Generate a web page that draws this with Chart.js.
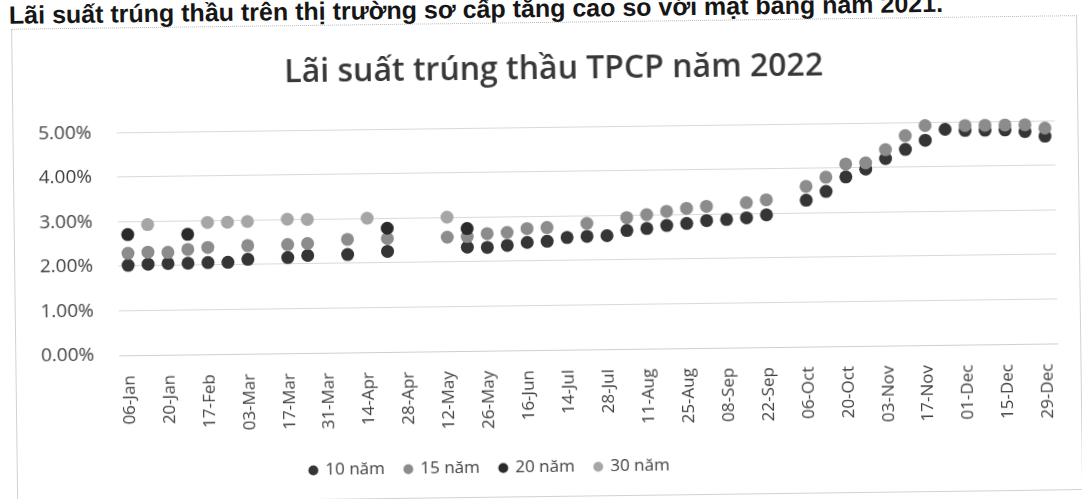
<!DOCTYPE html>
<html>
<head>
<meta charset="utf-8">
<title>Lãi suất trúng thầu TPCP năm 2022</title>
<script src="https://cdn.jsdelivr.net/npm/chart.js@4.4.1/dist/chart.umd.min.js"></script>
<style>
    html, body { margin: 0; padding: 0; background: #fff; width: 1082px; height: 499px; overflow: hidden; }
    /* the reference is a slightly tilted scan */
    #page { position: absolute; left: 0; top: 0; width: 1082px; height: 499px; transform: rotate(-0.73deg); transform-origin: 541px 250px; }
    #headline { position: absolute; left: 12px; top: -4px; font: bold 25px "Liberation Sans", Arial, sans-serif; line-height: 25px; color: #161616; white-space: nowrap; }
    #frame { position: absolute; left: 14px; top: 22px; width: 1066px; height: 475px; box-sizing: border-box; border: 1px solid #d2d2d2; border-top: 1px dotted #b8b8b8; }
    #chartBox { position: relative; width: 1064px; height: 480px; }
</style>
</head>
<body>
<div id="page">
    <div id="headline">Lãi suất trúng thầu trên thị trường sơ cấp tăng cao so với mặt bằng năm 2021.</div>
    <div id="frame">
        <div id="chartBox"><canvas id="rateChart"></canvas></div>
    </div>
</div>
<script>
// auction dates (every other one is labelled on the axis)
const categories = [
    '06-Jan', '13-Jan', '20-Jan', '10-Feb', '17-Feb', '24-Feb', '03-Mar', '10-Mar',
    '17-Mar', '24-Mar', '31-Mar', '07-Apr', '14-Apr', '21-Apr', '28-Apr', '05-May',
    '12-May', '19-May', '26-May', '09-Jun', '16-Jun', '30-Jun', '14-Jul', '21-Jul',
    '28-Jul', '04-Aug', '11-Aug', '18-Aug', '25-Aug', '01-Sep', '08-Sep', '15-Sep',
    '22-Sep', '29-Sep', '06-Oct', '13-Oct', '20-Oct', '27-Oct', '03-Nov', '10-Nov',
    '17-Nov', '24-Nov', '01-Dec', '08-Dec', '15-Dec', '22-Dec', '29-Dec'
];

// winning yields, %
const rate10y = [
    2.02, 2.04, 2.05, 2.05, 2.06, 2.06, 2.12, null,
    2.15, 2.19, null, 2.20, null, 2.26, null, null,
    null, 2.33, 2.32, 2.36, 2.42, 2.44, 2.52, 2.54,
    2.55, 2.66, 2.70, 2.76, 2.80, 2.86, 2.88, 2.91,
    2.97, null, 3.29, 3.48, 3.80, 3.97, 4.20, 4.40,
    4.60, 4.84, 4.81, 4.81, 4.81, 4.77, 4.66
];
const rate15y = [
    2.29, 2.31, 2.30, 2.36, 2.40, null, 2.43, null,
    2.44, 2.46, null, 2.54, null, 2.55, null, null,
    2.56, 2.57, 2.63, 2.65, 2.73, 2.75, null, 2.83,
    null, 2.95, 3.01, 3.08, 3.14, 3.18, null, 3.25,
    3.31, null, 3.60, 3.80, 4.09, 4.11, 4.40, 4.71,
    4.93, null, 4.92, 4.92, 4.92, 4.92, 4.84
];
const rate20y = [
    2.71, null, null, 2.70, null, null, null, null,
    null, null, null, null, null, 2.78, null, null,
    null, 2.75, null, null, null, null, null, null,
    null, null, null, null, null, null, null, null,
    null, null, null, null, null, null, null, null,
    null, null, null, null, null, null, null
];
const rate30y = [
    null, 2.93, null, null, 2.96, 2.96, 2.97, null,
    3.01, 3.00, null, null, 3.01, null, null, null,
    3.01, null, null, null, null, null, null, null,
    null, null, null, null, null, null, null, null,
    null, null, null, null, null, null, null, null,
    null, null, null, null, null, null, null
];

const seriesNames = ['10 năm', '15 năm', '20 năm', '30 năm'];
const seriesColors = ['#353535', '#8c8c8c', '#2a2a2a', '#a6a6a6'];

Chart.defaults.font.family = '"Open Sans", "Noto Sans", sans-serif';
Chart.defaults.color = '#404040';

// legend and title sit a little off the chart centre in the reference
const boxShift = {
    id: 'boxShift',
    afterLayout(chart) {
        chart.legend.left -= 52;
        chart.legend.right -= 52;
        chart.titleBlock.left += 17;
        chart.titleBlock.right += 17;
    }
};

function makeSeries(i, data) {
    const color = seriesColors[i];
    return {
        label: seriesNames[i],
        data,
        order: 4 - i,               // later series drawn on top, like Excel
        showLine: false,
        clip: false,
        borderWidth: 0,
        borderColor: color,
        backgroundColor: color,
        pointStyle: 'circle',
        pointRadius: 6.5,
        pointHoverRadius: 6.5,
        pointBorderWidth: 0,
        pointBackgroundColor: color,
        pointBorderColor: color
    };
}

const ctx = document.getElementById('rateChart').getContext('2d');
new Chart(ctx, {
    type: 'line',
    data: {
        labels: categories,
        datasets: [
            makeSeries(0, rate10y),
            makeSeries(1, rate15y),
            makeSeries(2, rate20y),
            makeSeries(3, rate30y)
        ]
    },
    options: {
        responsive: true,
        maintainAspectRatio: false,
        animation: false,
        events: [],
        layout: { padding: { left: 0, right: 16, top: 0, bottom: 17 } },
        scales: {
            x: {
                type: 'category',
                offset: true,
                grid: { display: false },
                border: { color: '#cfcfcf' },
                ticks: {
                    autoSkip: false,
                    maxRotation: 90,
                    minRotation: 90,
                    padding: 12,
                    font: { size: 17 },
                    callback: (v, i) => (i % 2 === 0 ? categories[i] : '')
                },
                afterFit: s => { s.height = 89; }
            },
            y: {
                min: 0,
                max: 5,
                grid: { color: '#d9d9d9', drawTicks: false },
                border: { display: false },
                ticks: {
                    stepSize: 1,
                    padding: 25,
                    font: { size: 19 },
                    callback: v => v.toFixed(2) + '%'
                },
                afterFit: s => { s.width = 103; }
            }
        },
        plugins: {
            title: {
                display: true,
                text: 'Lãi suất trúng thầu TPCP năm 2022',
                color: '#383838',
                font: { size: 32, weight: '600' },
                padding: { top: 28, bottom: 38 }
            },
            legend: {
                position: 'bottom',
                labels: {
                    usePointStyle: true,
                    pointStyle: 'circle',
                    boxWidth: 7,
                    boxHeight: 7,
                    padding: 20,
                    color: '#404040',
                    font: { size: 17 },
                    sort: (a, b) => a.datasetIndex - b.datasetIndex
                }
            },
            tooltip: { enabled: false }
        }
    },
    plugins: [boxShift]
});
</script>
</body>
</html>
